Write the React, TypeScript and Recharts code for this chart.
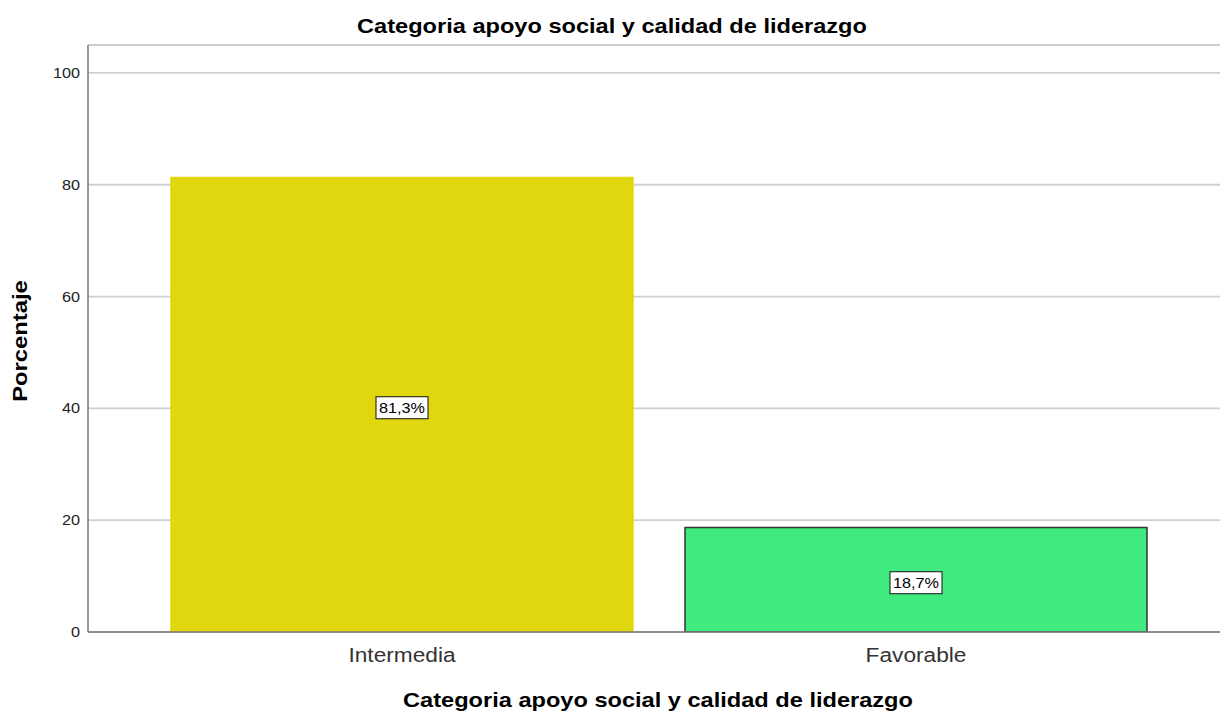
import React from 'react';
import { BarChart, Bar, XAxis, YAxis, CartesianGrid, LabelList, Cell } from 'recharts';

const categories = ['Intermedia', 'Favorable'];
const percentages = [81.3, 18.7];
const barColors = ['#E1D70E', '#41EA7F'];
const barStrokes = ['#E1D70E', '#333333'];
const yTicks = [0, 20, 40, 60, 80, 100];
const chartTitle = 'Categoria apoyo social y calidad de liderazgo';
const xTitle = 'Categoria apoyo social y calidad de liderazgo';
const yTitle = 'Porcentaje';

const data = categories.map((c, i) => ({ category: c, value: percentages[i] }));

const FONT = '"Liberation Sans", Arial, Helvetica, sans-serif';

function SText(props: any) {
  const { x, y, size, weight = 'normal', anchor = 'middle', sx = 1.28, rotate = 0, fill = '#000', children } = props;
  const t = `translate(${x},${y})` + (rotate ? ` rotate(${rotate})` : '') + ` scale(${sx},1)`;
  return (
    <text transform={t} textAnchor={anchor} fontSize={size} fontWeight={weight} fontFamily={FONT} fill={fill}>
      {children}
    </text>
  );
}

const YTick = (p: any) => (
  <SText x={p.x} y={p.y + 5} size={14.5} anchor="end" sx={1.12} fill="#222">
    {p.payload.value}
  </SText>
);

const XTick = (p: any) => (
  <SText x={p.x} y={662} size={21} sx={1.08} fill="#333">
    {p.payload.value}
  </SText>
);

const ValueLabel = (p: any) => {
  const cx = p.x + p.width / 2;
  const cy = p.y + p.height / 2 + 3;
  const txt = Number(p.value).toFixed(1).replace('.', ',') + '%';
  return (
    <g>
      <rect x={cx - 26} y={cy - 11} width={52} height={22} fill="#fff" stroke="#111" strokeWidth={1} />
      <SText x={cx} y={cy + 5} size={15} sx={1.08} fill="#000">
        {txt}
      </SText>
    </g>
  );
};

export default function App() {
  return (
    <div style={{ position: 'absolute', left: 0, top: 0, width: 1220, height: 713, background: '#fff' }}>
      <BarChart
        width={1220}
        height={713}
        data={data}
        margin={{ top: 45, right: 0, bottom: 0, left: 0 }}
      >
        <CartesianGrid vertical={false} stroke="#D0D0D0" strokeWidth={1.8} />
        <XAxis
          dataKey="category"
          height={81}
          padding={{ left: 57, right: 47 }}
          axisLine={{ stroke: '#777', strokeWidth: 1.5 }}
          tickLine={false}
          tick={<XTick />}
          interval={0}
        />
        <YAxis
          width={88}
          domain={[0, 105]}
          ticks={yTicks}
          allowDataOverflow
          axisLine={{ stroke: '#777', strokeWidth: 1.5 }}
          tickLine={false}
          tick={<YTick />}
        />
        <Bar dataKey="value" barSize={462} isAnimationActive={false}>
          {data.map((d, i) => (
            <Cell key={d.category} fill={barColors[i]} stroke={barStrokes[i]} strokeWidth={1.5} />
          ))}
          <LabelList dataKey="value" content={<ValueLabel />} />
        </Bar>
        <SText x={612} y={33} size={20} weight="bold" sx={1.18} fill="#000">
          {chartTitle}
        </SText>
        <SText x={658} y={707} size={20} weight="bold" sx={1.18} fill="#000">
          {xTitle}
        </SText>
        <SText x={27} y={341} size={20} weight="bold" sx={1.19} rotate={-90} fill="#000">
          {yTitle}
        </SText>
      </BarChart>
    </div>
  );
}
